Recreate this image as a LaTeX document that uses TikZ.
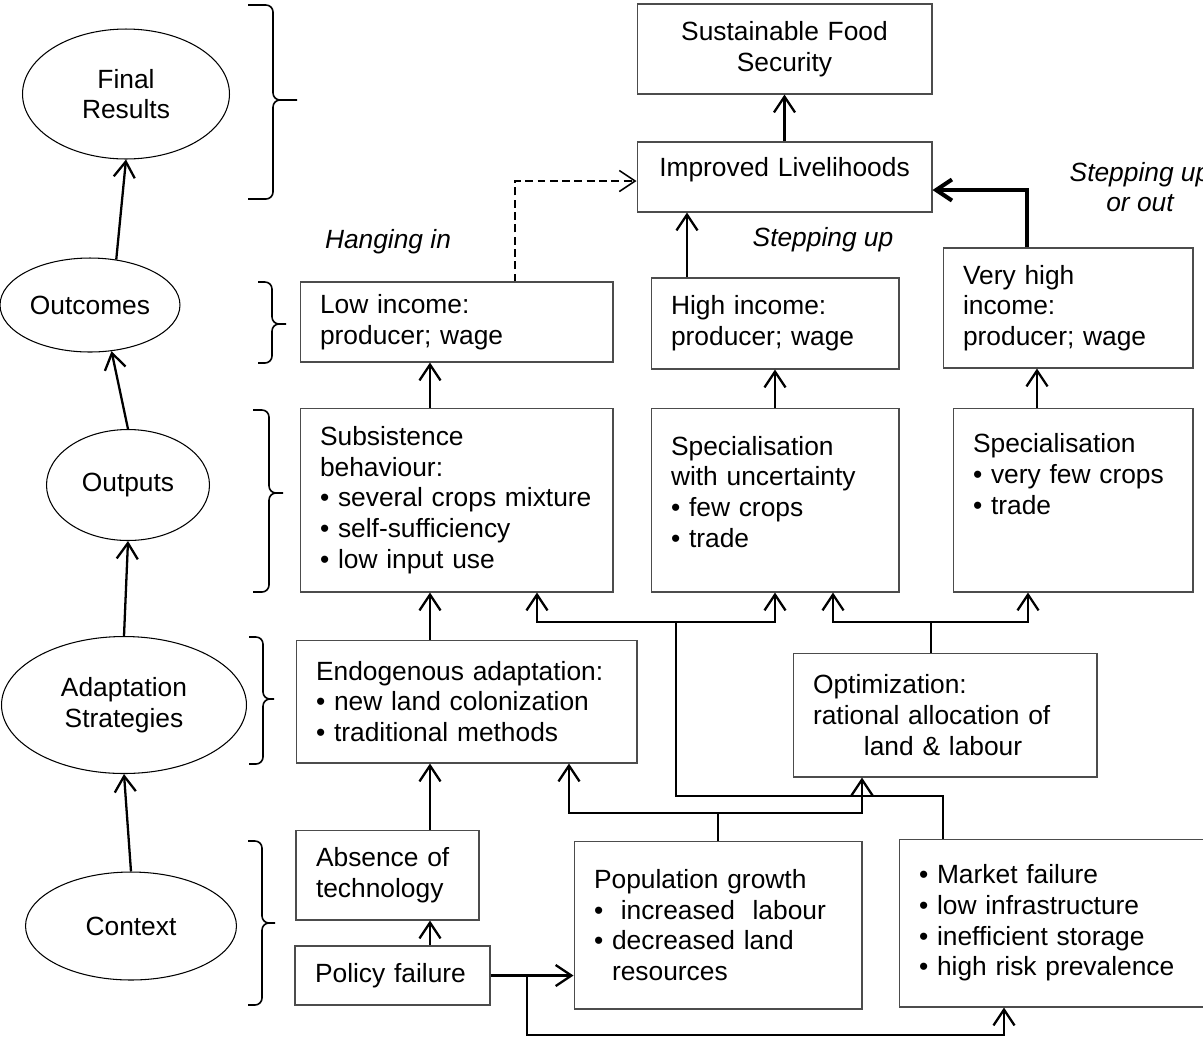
\documentclass[tikz,border=0pt]{standalone}
\usepackage{fontspec}
\setmainfont{Liberation Sans}
\usetikzlibrary{arrows.meta,shapes.geometric}

\begin{document}
\begin{tikzpicture}[x=0.02cm,y=-0.02cm,>={Straight Barb[length=9pt,width=12pt]},
  font=\fontsize{15}{17.5}\selectfont,
  box/.style={draw=black!70,line width=0.6pt,inner xsep=0.4cm,inner ysep=0pt,align=left},
  oval/.style={draw,ellipse,line width=0.6pt,inner sep=0pt,align=center},
  link/.style={line width=1.3pt},
  tag/.style={font=\fontsize{15}{17.5}\selectfont\itshape,align=center}]

\useasboundingbox (0,0) rectangle (1203,1039);

\node[oval,minimum width=4.14cm,minimum height=2.6cm] (final) at (126,94) {Final\\Results};
\node[oval,minimum width=3.6cm,minimum height=1.88cm] (outcomes) at (90,305) {Outcomes};
\node[oval,minimum width=3.26cm,minimum height=2.22cm] (outputs) at (128,485) {Outputs};
\node[oval,minimum width=4.9cm,minimum height=2.74cm] (adapt) at (124,705) {Adaptation\\Strategies};
\node[oval,minimum width=4.22cm,minimum height=2.16cm] (context) at (131,926) {Context};

\node[box,align=center,text width=5.1cm,minimum height=1.8cm] (sfs) at (784.5,49) {Sustainable Food\\Security};
\node[box,align=center,text width=5.1cm,minimum height=1.4cm] (improved) at (784.5,177) {Improved Livelihoods\\[-6pt]\mbox{}};
\node[box,text width=5.46cm,minimum height=1.6cm] (lowinc) at (456.5,322) {Low income:\\producer; wage};
\node[box,text width=4.16cm,minimum height=1.82cm] (highinc) at (775,323.5) {High income:\\producer; wage};
\node[box,text width=4.2cm,minimum height=2.4cm] (vhigh) at (1068,308) {Very high\\income:\\producer; wage};
\node[box,text width=5.46cm,minimum height=3.68cm] (subs) at (456.5,500) {Subsistence\\behaviour:\\• several crops mixture\\• self-sufficiency\\• low input use};
\node[box,text width=4.16cm,minimum height=3.68cm] (specu) at (775,500) {Specialisation\\with uncertainty\\• few crops\\• trade\\[-8pt]\mbox{}};
\node[box,text width=4.0cm,minimum height=3.68cm] (spec) at (1073,500) {Specialisation\\• very few crops\\• trade\\[12pt]\mbox{}};
\node[box,text width=6.02cm,minimum height=2.46cm] (endo) at (466.5,701.5) {Endogenous adaptation:\\• new land colonization\\• traditional methods};
\node[box,text width=5.28cm,minimum height=2.48cm] (optim) at (945,715) {Optimization:\\rational allocation of\\\hspace*{29pt}land \& labour};
\node[box,text width=2.86cm,minimum height=1.8cm] (absence) at (387.5,875) {Absence of\\technology};
\node[box,text width=3.1cm,minimum height=1.18cm] (policy) at (392.5,975.5) {Policy failure};
\node[box,text width=4.96cm,minimum height=3.36cm] (popgr) at (718,925) {Population growth\\•\ \ increased\ \ labour\\• decreased land\\\phantom{• }resources};
\node[box,text width=5.6cm,minimum height=3.36cm] (market) at (1059,923) {• Market failure\\• low infrastructure\\• inefficient storage\\• high risk prevalence};

\node[tag] (hang) at (388,242) {Hanging in};
\node[tag] (stepup) at (823,240) {Stepping up};
\node[tag] (stepout) at (1140,187) {Stepping up\\or out};

\path (430,0) coordinate (colA) (687,0) coordinate (colB) (1037,0) coordinate (colC)
  (515,181) coordinate (dashC) (1027,190) coordinate (thickC)
  (676,622) coordinate (mkJ) (537,0) coordinate (mkL) (943,796) coordinate (mkC)
  (931,622) coordinate (opJ) (833,0) coordinate (opL) (1028,0) coordinate (opR)
  (720,813) coordinate (popJ) (569,0) coordinate (popL) (862,0) coordinate (popR)
  (527,1035) coordinate (polC) (1004,1035) coordinate (polR);

\draw[link,->] (context.north) -- (adapt.south);
\draw[link,->] (adapt.north) -- (outputs.south);
\draw[link,->] (outputs.north) -- (outcomes.-65);
\draw[link,->] (outcomes.60) -- (final.south);

\foreach \hx/\vx/\tx/\ya/\yb/\yc in {248/273/297/5/100/199, 258/272/286/282/324/363,
    253/269/283/410/493/592, 249/263/274/637/699/764, 248/262/275/841/923/1005}
  \draw[line width=0.9pt,rounded corners=4pt] (\hx,\ya) -- (\vx,\ya) -- (\vx,\yb) -- (\tx,\yb)
    (\tx,\yb) -- (\vx,\yb) -- (\vx,\yc) -- (\hx,\yc);

\draw[link,->] (improved.north) -- (sfs.south);
\draw[link,->] (highinc.north -| colB) -- (improved.south -| colB);
\draw[->,line width=0.9pt,dash pattern=on 4.5pt off 2.5pt] (lowinc.north -| dashC) |- (improved.west |- dashC);
\draw[->,line width=2.3pt] (vhigh.north -| thickC) |- (improved.east |- thickC);
\draw[link,->] (subs.north -| colA) -- (lowinc.south -| colA);
\draw[link,->] (specu.north) -- (highinc.south);
\draw[link,->] (spec.north -| colC) -- (vhigh.south -| colC);
\draw[link,->] (endo.north -| colA) -- (subs.south -| colA);
\draw[link,->] (absence.north -| colA) -- (endo.south -| colA);
\draw[link,->] (policy.north -| colA) -- (absence.south -| colA);
\draw[link,->] (policy.east) -- (popgr.west |- policy.east);
\draw[link,->] (policy.east -| polC) -- (polC) -- (polR) -- (market.south -| polR);
\draw[link] (market.north -| mkC) -- (mkC) -| (mkJ);
\draw[link,->] (mkJ) -| (subs.south -| mkL);
\draw[link,->] (mkJ) -| (specu.south);
\draw[link] (optim.north -| opJ) -- (opJ);
\draw[link,->] (opJ) -| (specu.south -| opL);
\draw[link,->] (opJ) -| (spec.south -| opR);
\draw[link] (popgr.north) -- (popgr.north |- popJ);
\draw[link,->] (popgr.north |- popJ) -| (endo.south -| popL);
\draw[link,->] (popgr.north |- popJ) -| (optim.south -| popR);
\end{tikzpicture}
\end{document}
